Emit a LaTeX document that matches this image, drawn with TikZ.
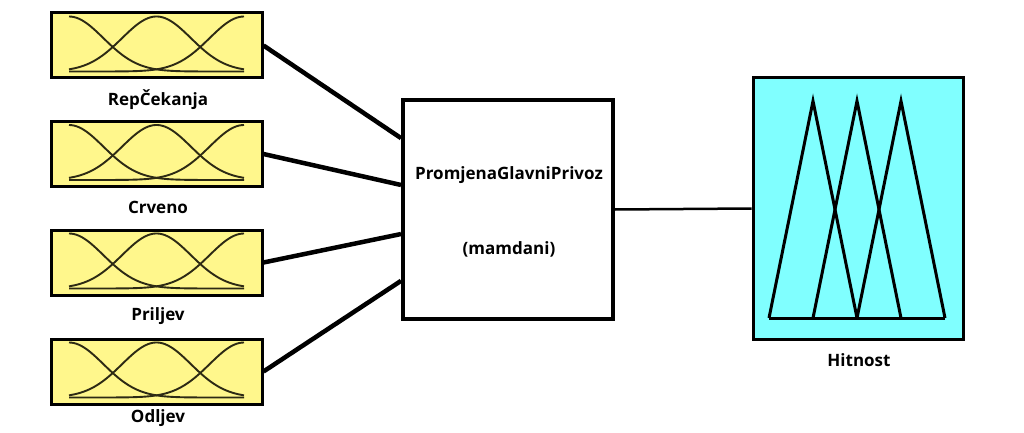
\documentclass[tikz,border=0pt]{standalone}
\usepackage{fontspec}
\setmainfont{Open Sans}
\usetikzlibrary{calc}
\definecolor{inyellow}{RGB}{255,247,140}
\definecolor{outcyan}{RGB}{128,255,255}
\definecolor{mfcol}{RGB}{45,42,20}
\begin{document}
\begin{tikzpicture}[x=1pt,y=-1pt,
  lbl/.style={font=\fontsize{17}{20}\selectfont\bfseries, inner sep=0pt},
  inbox/.style={draw, fill=inyellow, line width=3pt, minimum width=211pt, minimum height=65pt, inner sep=0pt},
  fisbox/.style={draw, fill=white, line width=4pt, minimum width=210pt, minimum height=219pt, inner sep=0pt},
  outbox/.style={draw, fill=outcyan, line width=3pt, minimum width=210pt, minimum height=261pt, inner sep=0pt},
  mf/.style={draw=mfcol, line width=1.9pt},
  conn/.style={line width=4.5pt},
  outconn/.style={line width=2.5pt},
  tri/.style={line width=3pt, line join=miter}]
\useasboundingbox (0,0) rectangle (1024,433);

% FIS box
\node[fisbox] (fis) at (508,209.5) {};
\node[lbl] (fisname) at (509,175) {PromjenaGlavniPrivoz};
\node[lbl] (fistype) at (509,249) {(mamdani)};

% input boxes
\foreach \n/\cy/\lab/\ly/\fr in {1/45.5/RepČekanja/100/0.18, 2/154/Crveno/207/0.39, 3/262.5/Priljev/316/0.61, 4/371.5/Odljev/418/0.82}{
  \node[inbox] (in\n) at (156.5,\cy) {};
  \foreach \m in {-87.5,0,87.5}{
    \draw[mf] plot[domain=-87.5:87.5, samples=70, smooth]
      ({156.5+\x},{\cy+26-55*exp(-0.5*((\x-(\m))/34.4)^2)});
  }
  \node[lbl] (lab\n) at (158,\ly) {\lab};
  \draw[conn] (in\n.east) -- ($(fis.north west)!\fr!(fis.south west)$);
}

% output box
\node[outbox] (out) at (858,208.5) {};
\draw[tri] (769,318) -- (813,101) -- (857,318);
\draw[tri] (813,318) -- (857,101) -- (901,318);
\draw[tri] (857,318) -- (901,101) -- (945,318);
\draw[tri] (769,318) -- (945,318);
\node[lbl] (outlab) at (859,360) {Hitnost};

\draw[outconn] (fis.east) -- (out.west);
\end{tikzpicture}
\end{document}
